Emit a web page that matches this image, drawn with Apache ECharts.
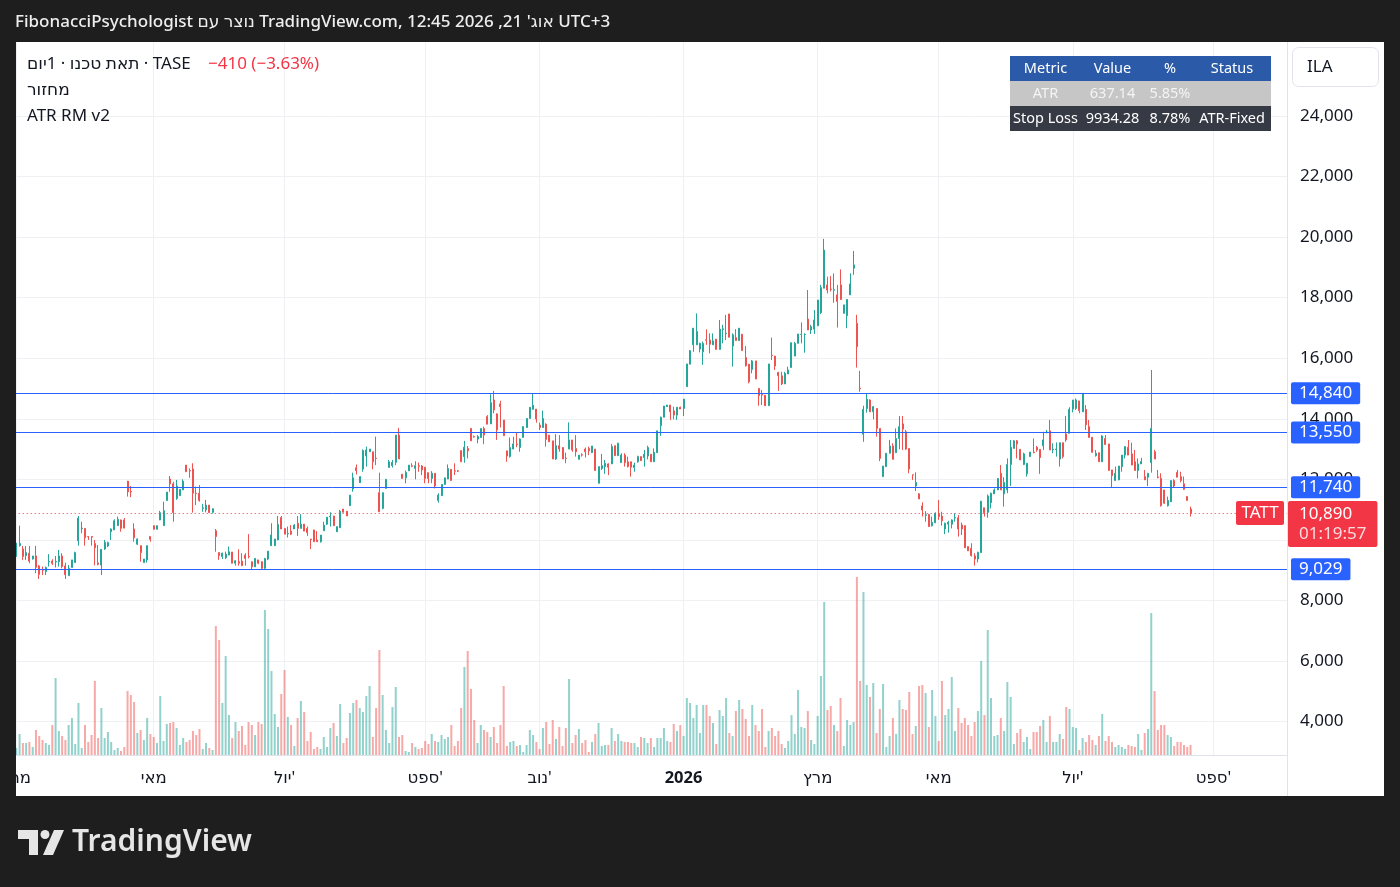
<!DOCTYPE html>
<html><head><meta charset="utf-8">
<script src="https://cdn.jsdelivr.net/npm/echarts@6/dist/echarts.min.js"></script>
<style>
html,body{margin:0;padding:0;background:#1e1e1e;width:1400px;height:887px;overflow:hidden}
#panel{position:absolute;left:16px;top:42px;width:1368px;height:754px;background:#fff}
#c{position:absolute;left:0;top:0;width:1400px;height:887px}
#mask{position:absolute;left:0;top:42px;width:16px;height:754px;background:#1e1e1e}
</style></head><body>
<div id="panel"></div><div id="c"></div><div id="mask"></div>
<script>
// ---- data (daily candles, TASE: תאת טכנו) ----
// [open, high, low, close]
const ohlc = [
[9480,9900,9440,9890],[9810,10470,9780,9880],[9700,9800,9340,9450],[9480,9800,9340,9580],[9560,9800,9230,9300],
[9370,9470,9350,9470],[9470,9800,8900,9090],[9140,9170,8710,8860],[9010,9120,8840,9000],[8950,9120,8840,9090],
[9270,9530,9120,9290],[9300,9360,9170,9230],[9270,9470,9090,9290],[9280,9670,9120,9470],[9470,9560,9060,9120],
[9140,9250,8710,8850],[8820,9170,8820,9060],[9090,9340,9090,9340],[9250,9610,9250,9580],[9970,10790,9810,10720],
[10370,10600,10220,10390],[10380,10390,9810,10070],[10110,10130,10000,10100],[10110,10130,9810,10090],[9880,10000,9160,9740],
[9240,9830,9160,9190],[9170,9690,8840,9690],[9700,10000,9670,9920],[9800,9940,9760,9910],[10270,10380,10000,10360],
[10330,10680,10330,10630],[10470,10770,10470,10680],[10660,10670,10270,10380],[10660,10720,10380,10390],[11940,11950,11430,11590],
[11600,11780,11410,11580],[10360,10550,9940,10070],[9860,10050,9830,10030],[9810,9810,9280,9580],[9250,9370,9250,9370],
[9340,9810,9250,9810],[10110,10110,9940,10020],[10470,10470,10350,10350],[10350,10470,10350,10470],[10660,10960,10650,10900],
[10470,11260,10470,10960],[11300,11580,11300,11580],[12010,12110,11590,11850],[11850,11920,10600,10900],[11370,11980,11320,11780],
[11460,11670,11460,11670],[11650,12000,11650,11940],[12470,12470,12250,12250],[12290,12360,12050,12280],[12340,12530,10900,11540],
[11540,11760,11150,11530],[11540,11810,11260,11300],[11040,11190,10930,11060],[10990,11320,10910,11150],[11150,11150,10900,10900],
[10910,10990,10870,11030],[10300,10360,9610,10110],[9580,9580,9340,9480],[9450,9580,9370,9560],[9410,9610,9370,9530],
[9500,9780,9500,9610],[9600,9600,9230,9230],[9230,9330,9150,9310],[9280,9690,9150,9230],[9300,9560,9150,9150],
[9500,9560,9150,9390],[9450,10190,9390,9440],[9280,9280,9030,9110],[9110,9390,9110,9390],[9340,9340,9200,9230],
[9280,9290,9030,9060],[9060,9400,9050,9390],[9370,9630,9330,9630],[9810,10550,9800,10160],[9810,10030,9810,10030],
[10000,10790,9990,10510],[10740,10790,10360,10360],[10380,10380,10190,10190],[10200,10440,10080,10220],[10290,10490,10160,10190],
[10360,10520,10360,10490],[10550,10790,10130,10380],[10380,10850,10380,10520],[10520,10520,10290,10290],[10380,10440,10130,10240],
[10030,10030,9700,10010],[10330,10330,9940,9940],[10000,10290,9940,9940],[9940,10160,9910,10160],[10300,10600,10300,10490],
[10520,10750,10490,10750],[10760,10910,10440,10780],[10790,10790,10470,10470],[10270,10440,10270,10440],[10400,10990,10400,10950],
[11020,11020,10910,10910],[10950,10950,10790,10790],[11130,11480,11130,11480],[11680,12220,11590,12050],[12380,12490,12160,12290],
[11890,12090,11890,12090],[12340,12990,12250,12950],[12770,13080,12420,12970],[12910,13000,12910,13000],[12910,12910,12330,12580],
[12700,13410,12470,12690],[11560,12220,10930,10930],[11040,11560,11010,11560],[11700,12000,11700,12000],[12390,12640,12390,12580],
[12450,12640,12390,12560],[12560,13460,12470,13460],[13460,13700,12670,12670],[12170,12170,12030,12030],[12050,12290,11870,12230],
[12280,12470,12280,12470],[12450,12530,12400,12430],[12360,12600,12000,12450],[12450,12550,12250,12430],[12440,12470,12140,12310],
[12400,12400,11870,12030],[12220,12220,11870,12030],[12030,12270,11870,12200],[12200,12200,11700,11780],[11300,11540,11230,11480],
[11460,11830,11460,11830],[11830,12050,11830,12050],[12010,12490,12010,12360],[12330,12330,11960,11960],[12280,12530,12140,12270],
[12280,12310,12240,12270],[12950,12950,12580,12580],[12750,13270,12550,13060],[13020,13100,12690,12940],[13680,13680,13270,13270],
[13410,13440,13380,13400],[13330,13460,13190,13410],[13380,13680,13380,13680],[13680,13740,13160,13460],[14070,14120,13820,13820],
[13830,14810,13830,14530],[14620,14920,14180,14290],[14160,14180,13300,13630],[14490,14590,13710,14400],[13960,13960,13440,13440],
[12940,12940,12580,12770],[12750,13380,12720,13050],[13000,13410,13000,13170],[13170,13550,13060,13150],[13050,13350,12910,13330],
[13380,13740,13380,13740],[13710,14010,13710,14010],[14010,14380,14010,14380],[14310,14840,14310,14450],[14320,14320,13870,13990],
[13790,13870,13630,13710],[13710,14270,13710,14010],[13820,13850,13080,13320],[13460,13460,13240,13240],[13270,13270,12670,12670],
[12670,13490,12640,13110],[13110,13460,12910,13000],[13050,13050,12670,12670],[12700,12880,12530,12690],[13000,13880,13000,13300],
[13300,13300,12910,12970],[13020,13460,12750,12910],[12660,12800,12660,12800],[12810,12860,12750,12800],[13000,13050,12720,12910],
[13020,13080,12800,12940],[12880,13100,12880,13100],[13000,13000,12290,12290],[11870,12420,11870,12420],[12360,12840,12310,12450],
[12420,12640,12180,12530],[12510,12530,12140,12400],[12510,13170,12510,13080],[13110,13110,12780,12780],[12780,13210,12780,13190],
[12550,12860,12550,12800],[12800,12860,12420,12550],[12580,12750,12390,12420],[12580,12580,12090,12400],[12390,12550,12250,12470],
[12580,12780,12550,12750],[12750,12750,12600,12620],[12720,12970,12420,12830],[12770,13110,12660,13050],[12830,12830,12580,12580],
[12580,13020,12580,12890],[12880,13600,12880,13600],[13770,14070,13430,14050],[14050,14420,14050,14420],[14400,14460,14400,14450],
[14450,14460,13960,14230],[14260,14400,13980,14120],[14120,14380,13960,14380],[14380,14400,14320,14320],[14340,14650,14090,14650],
[15060,15810,15060,15810],[15800,16270,15800,16250],[16440,16990,16210,16990],[16440,17480,16440,16880],[16300,16510,16190,16490],
[16210,16550,15780,16490],[16610,16950,16440,16590],[16600,16820,16160,16460],[16440,16820,16440,16570],[16630,16630,16290,16290],
[16290,17260,16290,16960],[16950,17100,16490,16970],[16810,17430,16600,16830],[17460,17460,16690,16690],[16400,16820,15720,16770],
[16680,16960,16580,16580],[16580,16990,16580,16990],[16790,16790,16250,16250],[16020,16400,15720,15750],[15800,15800,15170,15220],
[15630,15940,15500,15910],[15910,15910,15310,15310],[15000,15000,14430,14760],[14800,14950,14450,14780],[14780,14780,14430,14430],
[14430,15810,14430,15810],[16090,16680,15940,16080],[16070,16070,15610,15740],[15530,15550,14920,15420],[15420,15550,15110,15150],
[15150,15550,15150,15500],[15480,15720,15480,15610],[15690,16510,15690,16510],[16070,16540,16070,16490],[16490,16800,16490,16800],
[16780,17180,16490,16790],[16780,16820,16180,16790],[17290,18250,16930,16930],[16930,17100,16800,17040],[16960,17590,16800,17260],
[17070,17920,17070,17920],[17500,18420,17460,18330],[18310,19940,18310,19570],[18420,18690,18140,18250],[18280,18710,18200,18270],
[18240,18800,17830,18260],[18090,18420,17010,17870],[18420,18930,17920,17940],[17480,17760,17480,17760],[17400,17940,16990,17940],
[18090,18800,18090,18450],[18970,19540,18750,19080],[17150,17430,15690,16380],[15010,15580,14890,14990],[13490,14430,13240,14310],
[14340,14840,14200,14640],[14620,14640,14230,14230],[14230,14420,13980,14400],[14340,14340,13410,13680],[13680,13680,12600,12690],
[12090,12440,12090,12440],[12420,12860,12420,12860],[12860,13300,12860,13100],[13100,13190,12660,12660],[12880,13680,12880,13350],
[13350,14090,12990,13740],[13830,14090,12970,13660],[13570,13630,12970,13000],[13020,13020,12200,12340],[12150,12150,11980,12140],
[11780,12230,11610,11900],[11520,11540,11350,11350],[11120,11240,10770,10990],[10810,10950,10600,10830],[10840,10860,10440,10440],
[10470,10770,10440,10580],[10570,10910,10550,10880],[10850,11320,10660,10770],[10790,10930,10470,10630],[10360,10570,10190,10550],
[10520,10630,10240,10580],[10520,10680,10380,10660],[10720,10880,10600,10740],[10730,10820,10110,10360],[10490,10570,10160,10360],
[10470,10470,9740,9740],[9780,9780,9640,9640],[9720,9890,9450,9480],[9470,9560,9150,9370],[9370,9610,9260,9590],
[9580,11280,9580,11280],[11060,11060,10770,10900],[10910,11500,10730,11450],[11230,11560,11040,11540],[11520,11700,11520,11650],
[11650,12030,11650,12030],[12200,12470,11650,11650],[11520,12070,11100,11900],[11650,12690,11540,12490],[12490,13300,11780,13060],
[13020,13300,13020,13270],[13270,13300,12690,13170],[12990,12990,12640,12640],[12490,12880,12470,12840],[12180,12530,12090,12530],
[12750,12900,12750,12900],[12900,13350,12860,12880],[13060,13100,12910,12970],[12990,12990,12180,12720],[13110,13570,12970,13300],
[13540,13630,13520,13560],[13600,13960,12970,12970],[12980,13190,12860,13000],[12980,13220,12750,13000],[12670,13210,12420,13210],
[13210,13210,12690,12750],[13500,14090,13240,13300],[13520,14380,13520,14310],[14320,14620,14210,14620],[14340,14670,14290,14620],
[14590,14590,14180,14270],[14230,14840,14230,14840],[14310,14450,13630,13800],[13740,13960,13380,13380],[13390,13390,12890,12890],
[12780,12970,12750,12860],[12880,12880,12580,12580],[12580,13460,12580,13430],[13350,13460,13130,13150],[13170,13170,12290,12290],
[12310,12310,11740,12120],[11960,12420,11960,12200],[11980,12440,11980,12440],[12420,12800,12250,12800],[12800,13100,12690,13080],
[13060,13300,12800,12800],[12840,13210,12470,12470],[12580,12970,12290,12290],[12290,12690,12030,12510],[12510,12710,12510,12590],
[12090,12310,11980,11980],[12070,12200,11780,12200],[12550,15610,12220,13680],[12910,12970,12670,12670],[12080,12310,12030,12060],
[12030,12200,11100,11130],[11650,11650,11190,11210],[11130,11430,11100,11300],[11260,11960,11260,11960],[11960,12000,11740,11780],
[12230,12310,12070,12070],[12090,12250,11900,11960],[11850,12090,11650,11670],[11430,11450,11300,11300],[11020,11100,10770,10890]
];
// volume (relative units, thousands)
const volume = [
7,21,12,12,13,8,25,19,15,12, 10,30,77,24,19,15,30,37,11,52, 7,30,13,20,74,17,47,17,23,13, 5,7,4,8,64,60,53,22,25,15,
37,21,18,12,59,14,31,32,33,27, 10,17,13,15,24,20,26,6,12,7, 5,129,115,52,99,40,17,33,24,29, 10,33,30,20,33,31,145,126,84,41,
28,61,85,38,30,9,37,54,43,14, 23,6,8,6,18,8,27,32,19,51, 12,17,42,52,55,47,43,59,69,18, 47,105,60,25,12,48,68,18,20,4,
3,12,8,6,7,14,11,21,14,13, 20,16,18,30,9,14,47,88,104,66, 35,12,30,25,23,18,28,12,30,69, 9,13,14,9,10,3,10,25,20,13,
6,27,33,11,35,16,28,9,27,76, 12,20,26,12,15,3,13,21,32,9, 10,10,27,14,21,14,13,13,12,12, 8,18,17,12,17,8,17,17,27,14,
13,31,24,30,19,57,52,37,50,22, 50,50,39,32,11,45,39,57,22,19, 44,55,46,36,19,50,30,24,46,8, 24,27,19,24,11,7,14,40,21,65,
28,27,44,15,11,39,79,153,45,49, 30,24,57,9,35,30,33,178,74,163, 70,58,72,22,46,71,8,19,37,21, 55,46,45,63,21,29,69,70,62,28,
65,39,14,74,40,46,78,24,47,32, 37,30,19,33,44,94,40,125,57,19, 20,37,24,73,58,11,22,26,13,18, 6,23,23,29,35,13,39,13,13,21,
16,48,46,28,27,5,17,13,20,15, 10,19,41,14,19,13,8,10,8,6, 10,9,8,21,5,22,26,142,64,25, 30,30,20,18,9,13,13,10,8,10
];
const tickIndex = [0, 42, 82, 125, 160, 204, 245, 282, 323, 366];
const tickText  = ['מרץ', 'מאי', "יול'", "ספט'", "נוב'", '2026', 'מרץ', 'מאי', "יול'", "ספט'"];
const levels = [14840, 13550, 11740, 9029];
const lastPrice = 10890;
const countdown = '01:19:57';
const totalSlots = 389; // data days + empty future days on the time scale

const tableRows = [
  ['Metric', 'Value', '%', 'Status'],
  ['ATR', '637.14', '5.85%', ''],
  ['Stop Loss', '9934.28', '8.78%', 'ATR-Fixed']
];

// ---- chart ----
const FONT = '"Noto Sans", "DejaVu Sans", sans-serif';
const fmt = v => v.toLocaleString('en-US');
const categories = Array.from({length: totalSlots}, (_, i) => String(i));
const UP = '#26a69a', DOWN = '#ef5350';

const chart = echarts.init(document.getElementById('c'), null, {renderer: 'canvas'});

const G = {left: 14.7, right: 113};
const colX = [1045.5, 1112.5, 1170, 1232];
const rowY = [56, 81, 106];
const rowFill = ['#2b5ba8', '#c6c6c6', '#363a45'];
const rowText = ['#ffffff', '#f4f4f4', '#ffffff'];

const tableGraphics = [];
rowY.forEach((y, r) => {
  tableGraphics.push({type: 'rect', z: 100, shape: {x: 1010, y: y, width: 261, height: 25}, style: {fill: rowFill[r]}});
  tableRows[r].forEach((t, c) => {
    if (!t) return;
    tableGraphics.push({type: 'text', z: 101, x: colX[c], y: y + 12.5,
      style: {text: t, fill: rowText[r], font: '14.5px ' + FONT, align: 'center', verticalAlign: 'middle', textAlign: 'center', textVerticalAlign: 'middle'}});
  });
});

function txt(x, y, s, font, fill, align) {
  return {type: 'text', z: 100, x: x, y: y,
    style: {text: s, font: font, fill: fill, align: align || 'left', verticalAlign: 'middle', textAlign: align || 'left', textVerticalAlign: 'middle'}};
}

const option = {
  animation: false,
  backgroundColor: 'transparent',
  textStyle: {fontFamily: FONT},
  grid: [
    {left: G.left, right: G.right, top: 55.3, bottom: 104.8, outerBoundsMode: 'none'},
    {left: G.left, right: G.right, top: 577, bottom: 132, outerBoundsMode: 'none'},
    {left: G.left, right: G.right, top: 42, bottom: 131, outerBoundsMode: 'none'}
  ],
  xAxis: [
    {type: 'category', gridIndex: 0, data: categories, boundaryGap: true, show: false},
    {type: 'category', gridIndex: 1, data: categories, boundaryGap: true,
      axisLine: {show: true, lineStyle: {color: '#e0e3eb', width: 1}},
      axisTick: {show: false}, splitLine: {show: false},
      axisLabel: {
        show: true, margin: 15, color: '#131722', fontSize: 16.5, fontFamily: FONT,
        interval: (idx) => tickIndex.indexOf(idx) >= 0,
        formatter: (val, idx) => {
          const k = tickIndex.indexOf(Number(val));
          if (k < 0) return '';
          return tickText[k] === '2026' ? '{b|2026}' : tickText[k];
        },
        rich: {b: {fontWeight: 'bold', fontSize: 16.5, color: '#131722', fontFamily: FONT}}
      }},
    {type: 'category', gridIndex: 2, data: categories, boundaryGap: true,
      axisLine: {show: false}, axisTick: {show: false, alignWithLabel: true}, axisLabel: {show: false},
      splitLine: {show: true, alignWithLabel: true, interval: (idx) => tickIndex.indexOf(idx) >= 0,
        lineStyle: {color: '#eef0f4', width: 1}}}
  ],
  yAxis: [
    {type: 'value', gridIndex: 0, position: 'right', min: 2000, max: 26000, interval: 2000, scale: false,
      axisLine: {show: false}, axisTick: {show: false},
      axisLabel: {show: true, margin: 13, color: '#131722', fontSize: 17, fontFamily: FONT,
        showMinLabel: false, showMaxLabel: false, formatter: v => fmt(v)},
      splitLine: {show: true, showMinLine: false, showMaxLine: false, lineStyle: {color: '#eef0f4', width: 1}}},
    {type: 'value', gridIndex: 1, min: 0, max: 178, show: false},
    {type: 'value', gridIndex: 2, min: 0, max: 1, show: false}
  ],
  series: [
    {type: 'bar', name: 'מחזור', xAxisIndex: 1, yAxisIndex: 1, silent: true, z: 1, barWidth: 2,
      data: volume.map((v, i) => ({value: v, itemStyle: {color: ohlc[i][3] >= ohlc[i][0] ? 'rgba(38,166,154,0.5)' : 'rgba(239,83,80,0.5)'}}))},
    {type: 'candlestick', name: 'TATT', xAxisIndex: 0, yAxisIndex: 0, silent: true, z: 3, barWidth: 1.5,
      data: ohlc.map(r => [r[0], r[3], r[2], r[1]]),
      itemStyle: {color: UP, color0: DOWN, borderColor: UP, borderColor0: DOWN, borderWidth: 1},
      markLine: {
        symbol: ['none', 'none'], silent: true, animation: false, precision: 0,
        data: levels.map(v => ({
          yAxis: v,
          lineStyle: {color: '#2962ff', width: 1, type: 'solid'},
          label: {show: true, position: 'end', distance: 4, formatter: fmt(v), color: '#ffffff',
            backgroundColor: '#2962ff', padding: [3, 8, 2, 8], borderRadius: 2, fontSize: 17, fontFamily: FONT}
        })).concat([
          {yAxis: lastPrice, lineStyle: {color: '#f23645', width: 1, type: [1, 3]},
            label: {show: true, position: 'end', distance: 1, offset: [0, 11],
              formatter: '{p|' + fmt(lastPrice) + '}\n{t|' + countdown + '}',
              backgroundColor: '#f23645', padding: [3, 11, 3, 11], borderRadius: 2,
              rich: {p: {color: '#ffffff', fontSize: 17, lineHeight: 20, fontFamily: FONT},
                     t: {color: 'rgba(255,255,255,0.82)', fontSize: 17, lineHeight: 20, fontFamily: FONT}}}}
        ])
      }}
  ],
  graphic: [
    // header text
    txt(15, 22, "FibonacciPsychologist נוצר עם TradingView.com, אוג' 21, 2026 12:45 UTC+3", '500 17px ' + FONT, '#eeeeee'),
    // legend
    txt(27, 64, 'תאת טכנו · 1יום · TASE', '17px ' + FONT, '#131722'),
    txt(208, 64, '−410 (−3.63%)', '17px ' + FONT, '#f23645'),
    txt(27, 90, 'מחזור', '17px ' + FONT, '#131722'),
    txt(27, 116, 'ATR RM v2', '17px ' + FONT, '#131722'),
    // axis separators
    {type: 'line', z: 50, shape: {x1: 1287.5, y1: 42, x2: 1287.5, y2: 796}, style: {stroke: '#e0e3eb', lineWidth: 1}},
    // symbol tag on the last-price line
    {type: 'rect', z: 100, shape: {x: 1236, y: 501, width: 48, height: 24, r: 2}, style: {fill: '#f23645'}},
    txt(1260, 513.5, 'TATT', '17px ' + FONT, '#ffffff', 'center'),
    // currency box
    {type: 'rect', z: 100, shape: {x: 1292.5, y: 47.5, width: 86, height: 39, r: 6}, style: {fill: '#ffffff', stroke: '#e0e3eb', lineWidth: 1}},
    txt(1307, 67, 'ILA', '17px ' + FONT, '#131722'),
    // TradingView logo
    {type: 'polygon', z: 100, shape: {points: [[18, 830], [38, 830], [38, 855], [29, 855], [29, 839], [18, 839]]}, style: {fill: '#e6e6e6'}},
    {type: 'circle', z: 100, shape: {cx: 45, cy: 834.5, r: 4.5}, style: {fill: '#e6e6e6'}},
    {type: 'polygon', z: 100, shape: {points: [[54, 830], [64, 830], [53, 855], [43, 855]]}, style: {fill: '#e6e6e6'}},
    txt(72, 842, 'TradingView', '600 30px ' + FONT, '#e6e6e6')
  ].concat(tableGraphics)
};
chart.setOption(option);
</script>
</body></html>
